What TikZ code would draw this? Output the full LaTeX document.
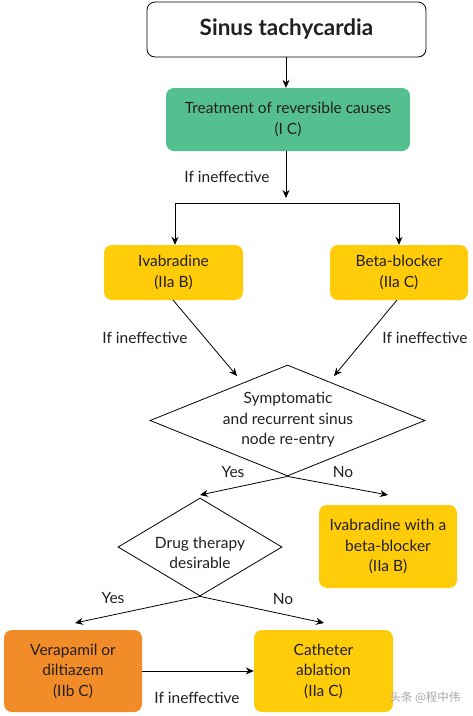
\documentclass[tikz,border=0pt]{standalone}
\usepackage{fontspec}
\setmainfont{Lato}
\newfontfamily\cjkfont{Noto Sans CJK SC}
\usetikzlibrary{shapes.geometric,arrows.meta}
\definecolor{boxgreen}{HTML}{55C08F}
\definecolor{boxyellow}{HTML}{FFCC0A}
\definecolor{boxorange}{HTML}{F28C28}
\definecolor{txt}{HTML}{231F20}
\tikzset{
  box/.style={rounded corners=8pt, inner sep=0pt, align=center, font=\fontsize{15.5}{20.5}\selectfont, text=txt},
  gbox/.style={box, fill=boxgreen},
  ybox/.style={box, fill=boxyellow},
  obox/.style={box, fill=boxorange},
  dia/.style={diamond, draw, line width=0.8pt, inner sep=0pt},
  arr/.style={-{Stealth[length=8pt,width=7pt]}, line width=0.8pt},
  lbl/.style={font=\fontsize{15.5}{20.5}\selectfont, text=txt, inner sep=0pt}
}
\begin{document}
\begin{tikzpicture}[x=1pt,y=-1pt]
\useasboundingbox (0,0) rectangle (473,716);
\node[box, draw, line width=0.8pt, minimum width=279pt, minimum height=55pt, font=\fontsize{22.5}{26}\selectfont\bfseries] (title) at (286.5,29.5) {Sinus tachycardia};
\node[gbox, minimum width=244pt, minimum height=63pt] (treat) at (288,119.5) {Treatment of reversible causes\\(I C)};
\node[ybox, minimum width=139pt, minimum height=55pt] (ivab) at (173.5,272.5) {Ivabradine\\(IIa B)};
\node[ybox, minimum width=138pt, minimum height=55pt] (beta) at (399,272.5) {Beta-blocker\\(IIa C)};
\node[dia, minimum width=275pt, minimum height=111pt] (d1) at (287.5,420.5) {};
\node[lbl, align=center] at (288,420) {Symptomatic\\and recurrent sinus\\node re-entry};
\node[ybox, minimum width=138pt, minimum height=83pt] (combo) at (388,546.5) {Ivabradine with a\\beta-blocker\\(IIa B)};
\node[dia, minimum width=164pt, minimum height=98pt] (d2) at (200,547) {};
\node[lbl, align=center] at (200,553) {Drug therapy\\desirable};
\node[obox, minimum width=138pt, minimum height=82pt] (vera) at (73,671) {Verapamil or\\diltiazem\\(IIb C)};
\node[ybox, minimum width=139pt, minimum height=82pt] (cath) at (323.5,671) {Catheter\\ablation\\(IIa C)};
% connectors
\coordinate (sl) at (175,203);
\coordinate (sr) at (399,203);
\draw[arr] (title.south -| 286,0) -- (treat.north -| 286,0);
\draw[arr] (treat.south -| 286,0) -- (286,198);
\draw[line width=0.8pt] (sl) -- (sr);
\draw[arr] (sl) -- (ivab.north -| sl);
\draw[arr] (sr) -- (beta.north -| sr);
\coordinate (t1) at (237,376);
\coordinate (t2) at (334,376);
\draw[arr] (173,300) -- (t1);
\draw[arr] (397,300) -- (t2);
\coordinate (y1) at (200,495);
\coordinate (n1) at (388,495);
\draw[arr] (d1.south) -- (y1);
\draw[arr] (d1.south) -- (n1);
\coordinate (y2) at (75,623);
\coordinate (n2) at (324,623);
\draw[arr] (d2.south) -- (y2);
\draw[arr] (d2.south) -- (n2);
\draw[arr] (vera.east) -- (cath.west);
% labels
\node[lbl] at (227,177) {If ineffective};
\node[lbl] at (145,338) {If ineffective};
\node[lbl] at (425,338) {If ineffective};
\node[lbl] at (233,472) {Yes};
\node[lbl] at (343,472) {No};
\node[lbl] at (113,598) {Yes};
\node[lbl] at (283,599) {No};
\node[lbl] at (197,698) {If ineffective};
\node[lbl, font=\cjkfont\fontsize{11.5}{13}\selectfont, text=gray!70] at (425,698) {头条 @程中伟};
\end{tikzpicture}
\end{document}
